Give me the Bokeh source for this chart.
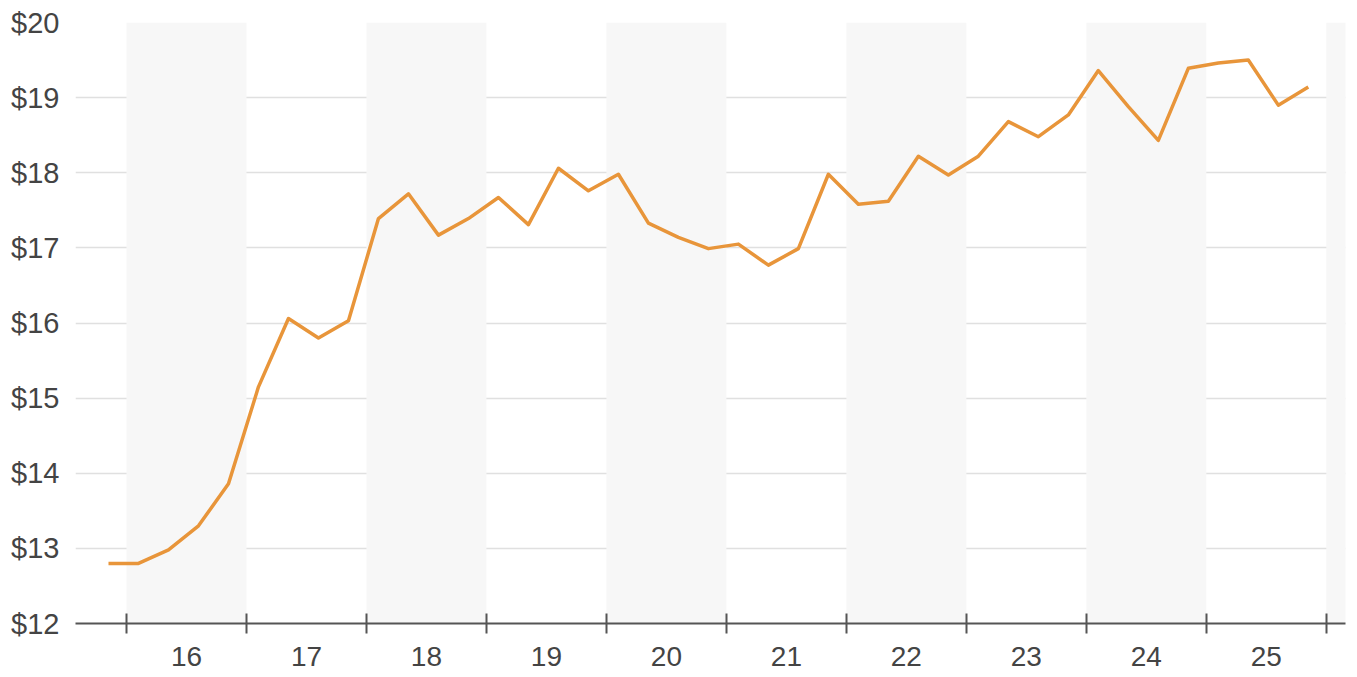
from bokeh.plotting import figure
from bokeh.models import FixedTicker, PrintfTickFormatter, Range1d
from bokeh.embed import file_html
from bokeh.resources import INLINE

# Quarterly periods (year, quarter) from 2015 Q4 to 2025 Q4
years_q = [15] + [y for y in range(16, 26) for _ in range(4)]
quarters = [4] + [q for _ in range(16, 26) for q in (1, 2, 3, 4)]
values = [12.80,
          12.80, 12.98, 13.30, 13.86,
          15.15, 16.06, 15.80, 16.03,
          17.39, 17.72, 17.17, 17.39,
          17.67, 17.31, 18.06, 17.76,
          17.98, 17.33, 17.14, 16.99,
          17.05, 16.77, 16.99, 17.98,
          17.58, 17.62, 18.22, 17.97,
          18.22, 18.68, 18.48, 18.77,
          19.36, 18.88, 18.43, 19.39,
          19.46, 19.50, 18.90, 19.14]
year_labels = ["16", "17", "18", "19", "20", "21", "22", "23", "24", "25"]
year_starts = list(range(16, 27))
y_ticks = [12, 13, 14, 15, 16, 17, 18, 19, 20]

xs = [y + (q - 1) * 0.25 + 0.1 for y, q in zip(years_q, quarters)]

p = figure(width=1357, height=670, output_backend="svg", toolbar_location=None,
           x_range=Range1d(15.575, 26.16), y_range=Range1d(12, 20),
           min_border_left=75, min_border_right=12, min_border_top=22,
           min_border_bottom=47)
p.outline_line_color = None
p.background_fill_color = "white"

# alternating shaded year bands
shade = [y for y in year_starts if (y - 16) % 2 == 0]
p.quad(left=shade, right=[y + 1 for y in shade], bottom=12, top=20,
       fill_color="#f7f7f7", line_color=None)

p.line(xs, values, line_color="#e8953a", line_width=3.5, line_join="round")

font = "Liberation Sans"
centers = [y + 0.5 for y in year_starts[:-1]]
p.xaxis.ticker = FixedTicker(ticks=centers, minor_ticks=year_starts)
p.xaxis.major_label_overrides = {c: l for c, l in zip(centers, year_labels)}
p.xaxis.major_tick_line_color = None
p.xaxis.major_tick_out = 0
p.xaxis.major_tick_in = 0
p.xaxis.minor_tick_line_color = "#555555"
p.xaxis.minor_tick_line_width = 2
p.xaxis.minor_tick_in = 10
p.xaxis.minor_tick_out = 10
p.xaxis.axis_line_color = "#555555"
p.xaxis.axis_line_width = 2
p.xaxis.major_label_standoff = 13
p.xaxis.major_label_text_font = font
p.xaxis.major_label_text_font_size = "28px"
p.xaxis.major_label_text_color = "#444444"

p.yaxis.ticker = FixedTicker(ticks=y_ticks)
p.yaxis.formatter = PrintfTickFormatter(format="$%d")
p.yaxis.axis_line_color = None
p.yaxis.major_tick_line_color = None
p.yaxis.minor_tick_line_color = None
p.yaxis.major_label_standoff = 10
p.yaxis.major_label_text_font = font
p.yaxis.major_label_text_font_size = "29px"
p.yaxis.major_label_text_color = "#444444"

p.xgrid.grid_line_color = None
p.ygrid.ticker = FixedTicker(ticks=y_ticks[1:])
p.ygrid.grid_line_color = "#e0e0e0"
p.ygrid.grid_line_width = 1.5

open("out.html", "w").write(file_html(p, INLINE))
